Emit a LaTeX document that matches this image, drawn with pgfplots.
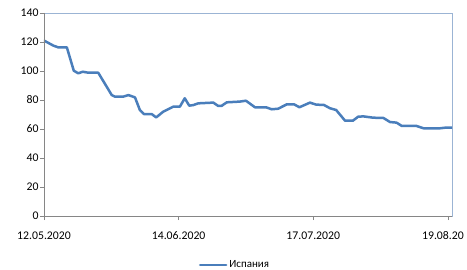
\documentclass[border=0pt]{standalone}
\usepackage{fontspec}
\setmainfont{Carlito}
\usepackage{pgfplots}
\pgfplotsset{compat=1.18}
\definecolor{linec}{HTML}{4A7EBB}
\definecolor{axgray}{HTML}{868686}
\definecolor{boxblue}{HTML}{9BB4D4}
\begin{document}
\begin{tikzpicture}
\useasboundingbox (-44bp,-54bp) rectangle (423bp,216bp);
\begin{axis}[at={(0,0)}, anchor=south west, scale only axis,
  width=408bp, height=203bp,
  xmin=0, xmax=100, ymin=0, ymax=140,
  ytick={0,20,...,140},
  xtick={0,33,66,99},
  xticklabels={12.05.2020,14.06.2020,17.07.2020,\hspace*{-10bp}19.08.20},
  tick pos=left, tick align=outside, major tick length=4bp,
  every tick/.style={axgray, line width=0.8bp},
  axis line style={boxblue, line width=0.8bp},
  ticklabel style={font=\fontsize{11.8}{13}\selectfont, text=black},
  /pgf/number format/assume math mode=true,
  xticklabel style={yshift=-8bp},
  yticklabel style={xshift=2bp},
  legend style={at={(0.468,-0.241)}, anchor=center, draw=none, fill=none,
    font=\fontsize{11}{13}\selectfont, inner sep=0pt},
  legend image code/.code={\draw[#1] (0bp,0bp) -- (26bp,0bp);},
  after end axis/.code={
    \draw[axgray, line width=0.8bp] (rel axis cs:0,1) -- (rel axis cs:0,0) -- (rel axis cs:1,0);
  },
]
\addplot[linec, line width=2.5bp, line join=round, line cap=round] coordinates {
(0,121) (2.3,117.5) (3.5,116.3) (5.6,116.3) (7.3,100.2) (8.4,98.4) (9.5,99.5)
(10.9,98.8) (13.3,98.8) (16.6,83.4) (17.4,82.3) (19.4,82.3) (20.7,83.4) (22.3,81.8)
(23.5,73.1) (24.5,70.3) (26.4,70.3) (27.5,68) (29.2,71.9) (30.9,74.3) (31.7,75.4)
(33.3,75.4) (34.5,81.2) (35.6,76.1) (36.6,76.5) (37.8,77.7) (41.5,78.2) (42.7,75.9)
(43.5,75.9) (44.8,78.4) (48.0,78.9) (49.5,79.5) (51.7,75) (54.4,75) (55.8,73.6)
(57.4,74) (59.5,77) (61.3,77) (62.6,75) (65.2,78.2) (66.7,76.8) (68.6,76.6)
(70.1,74.3) (71.6,73.1) (73.8,65.7) (75.7,65.7) (77.0,68.5) (78.3,68.7) (80.7,67.8)
(83.2,67.6) (84.8,64.8) (86.4,64.4) (87.7,62.1) (91.3,62.1) (93.0,60.5) (97.1,60.5)
(98.3,60.9) (100,60.9)
};
\addlegendentry{Испания}
\end{axis}
\end{tikzpicture}
\end{document}
